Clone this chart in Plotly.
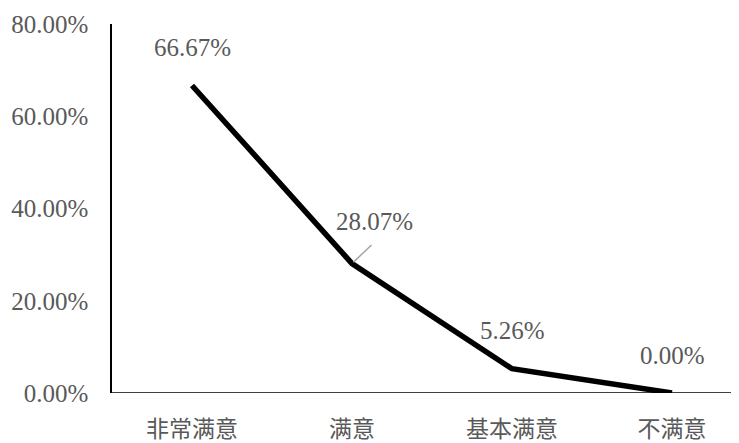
import plotly.graph_objects as go

categories = ["非常满意", "满意", "基本满意", "不满意"]
values = [66.67, 28.07, 5.26, 0.00]
tick_vals = [0, 20, 40, 60, 80]
tick_text = ["0.00%", "20.00%", "40.00%", "60.00%", "80.00%"]

num_font = "Liberation Serif"
grey = "#595959"

fig = go.Figure()
fig.add_trace(go.Scatter(
    x=list(range(len(categories))), y=values, mode="lines",
    line=dict(color="black", width=5.5), cliponaxis=False, hoverinfo="skip",
))

for i, v in enumerate(values):
    label = f"{v:.2f}%"
    if i == 1:
        # leader line
        fig.add_annotation(x=i, y=v, xref="x", yref="y", text="",
                           showarrow=True, arrowhead=0, arrowwidth=1.5,
                           arrowcolor="#a6a6a6", ax=21, ay=-20, standoff=2)
        fig.add_annotation(x=i, y=v, xref="x", yref="y", text=label,
                           showarrow=False, xshift=22, yshift=42,
                           font=dict(family=num_font, size=25, color=grey))
    else:
        fig.add_annotation(x=i, y=v, xref="x", yref="y", text=label,
                           showarrow=False, yshift=38,
                           font=dict(family=num_font, size=25, color=grey))

fig.update_layout(
    width=731, height=435,
    margin=dict(l=104, r=0, t=16, b=50),
    paper_bgcolor="white", plot_bgcolor="white",
    showlegend=False,
    xaxis=dict(
        range=[-0.5, -0.5 + 627 / 160],
        tickvals=list(range(len(categories))), ticktext=categories,
        showgrid=False, zeroline=False, showline=False, ticks="",
        tickfont=dict(family="Noto Sans CJK SC", size=23, color=grey),
        ticklabelstandoff=20,
    ),
    yaxis=dict(
        range=[0, 80], tickvals=tick_vals, ticktext=tick_text,
        showgrid=False, zeroline=False, showline=True, linecolor="black",
        linewidth=1.5, ticks="", mirror=False,
        tickfont=dict(family=num_font, size=25, color=grey),
        ticklabelstandoff=17,
    ),
)
fig.add_shape(type="line", xref="paper", yref="y", x0=0, x1=1, y0=0, y1=0,
              line=dict(color="black", width=1.5), layer="below")

fig.write_html("out.html")
